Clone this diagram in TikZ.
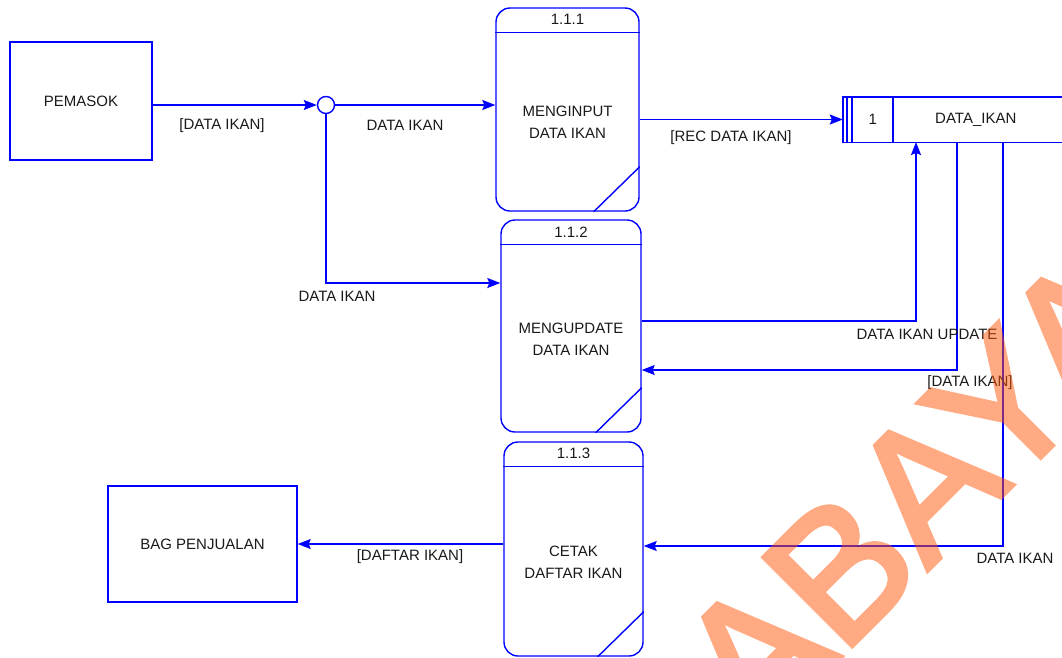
\documentclass[tikz,border=0pt]{standalone}
\usepackage{fontspec}
\setmainfont{Liberation Sans}
\newfontfamily\wmfont[FakeBold=2.5]{Liberation Sans}
\usetikzlibrary{calc,arrows.meta}
\definecolor{dfdblue}{RGB}{0,0,255}
\definecolor{wmark}{RGB}{255,85,5}
\begin{document}
\begin{tikzpicture}[x=1pt,y=-1pt,
  every node/.style={font=\fontsize{15}{17}\selectfont, text=black!90},
  line/.style={draw=dfdblue, line width=1.4pt},
  flow/.style={line, -{Stealth[length=13pt,width=10pt,inset=2pt]}},
  ent/.style={draw=dfdblue, line width=1.4pt, minimum width=#1},
  proc/.style={draw=dfdblue, line width=1.4pt, rounded corners=14pt, inner sep=0pt},
  lbl/.style={inner sep=1pt}
]
\useasboundingbox (0,0) rectangle (1062,657);

% external entities
\node[ent=142pt, minimum height=118pt] (pem) at (81,101) {PEMASOK};
\node[ent=189pt, minimum height=116pt] (bag) at (202.5,544) {BAG PENJUALAN};

% junction
\node[draw=dfdblue, line width=1.4pt, circle, minimum size=17pt, inner sep=0pt] (j) at (326,105) {};

% processes
\node[proc, minimum width=143pt, minimum height=203pt] (p1) at (567.5,109.5) {};
\node[proc, minimum width=140pt, minimum height=212pt] (p2) at (571,326) {};
\node[proc, minimum width=139pt, minimum height=214pt] (p3) at (573.5,549) {};

\foreach \p/\num/\la/\lb in {p1/1.1.1/MENGINPUT/DATA IKAN, p2/1.1.2/MENGUPDATE/DATA IKAN, p3/1.1.3/CETAK/DAFTAR IKAN}{
  \draw[line] ($(\p.north west)+(0,25)$) coordinate (\p h) -- ($(\p.north east)+(0,25)$);
  \draw[line] ($(\p.south east)+(-46,0)$) -- ($(\p.south east)+(0,-45)$);
  \node (\p num) at ($(\p.north)+(0,12.5)$) {\num};
  \node[align=center, font=\fontsize{15}{22}\selectfont] (\p txt) at ($(\p.center)+(0,13)$) {\la\\\lb};
}

% data store
\node[minimum width=219pt, minimum height=45pt, inner sep=0pt] (ds) at (952.5,119.5) {};
\draw[line] (ds.north east) -- (ds.north west) -- (ds.south west) -- (ds.south east);
\draw[line] ($(ds.north west)+(4,0)$) -- ($(ds.south west)+(4,0)$);
\draw[line] ($(ds.north west)+(9,0)$) -- ($(ds.south west)+(9,0)$);
\draw[line] ($(ds.north west)+(50,0)$) -- ($(ds.south west)+(50,0)$);
\node (dsnum) at ($(ds.west)+(30,0)$) {1};
\node (dsname) at ($(ds.west)+(133,0)$) {DATA\_IKAN};

% flows
\draw[flow] (pem.east |- j.west) -- (j.west);
\draw[flow] (j.east) -- (p1.west |- j.east);
\draw[flow] (j.south) -- (326,283) -- (p2.west |- 0,283);
\draw[flow] (p1.east |- ds.west) -- (ds.west);
\draw[flow] (p2.east |- 0,321) -- (916,321) -- (916,142);
\draw[flow] (957,142) -- (957,370) -- (p2.east |- 0,370);
\draw[flow] (1003,142) -- (1003,546) -- (p3.east |- 0,546);
\draw[flow] (p3.west |- bag.east) -- (bag.east);

% flow labels
\node[lbl] (l1) at (222,126) {[DATA IKAN]};
\node[lbl] (l2) at (405,125) {DATA IKAN};
\node[lbl] (l3) at (337,296) {DATA IKAN};
\node[lbl] (l4) at (731,138) {[REC DATA IKAN]};
\node[lbl] (l5) at (927,334) {DATA IKAN UPDATE};
\node[lbl] (l6) at (970,383) {[DATA IKAN]};
\node[lbl] (l7) at (1015,558) {DATA IKAN};
\node[lbl] (l8) at (410,557) {[DAFTAR IKAN]};

% watermark
\begin{scope}[transparency group, opacity=0.5]
\clip (0,0) rectangle (1062,657);
\node[anchor=base west, rotate=45, inner sep=0pt, text=wmark,
      font=\wmfont\fontsize{182}{182}\selectfont] (wm) at (484,1014) {SURABAYA};
\end{scope}
\end{tikzpicture}
\end{document}
